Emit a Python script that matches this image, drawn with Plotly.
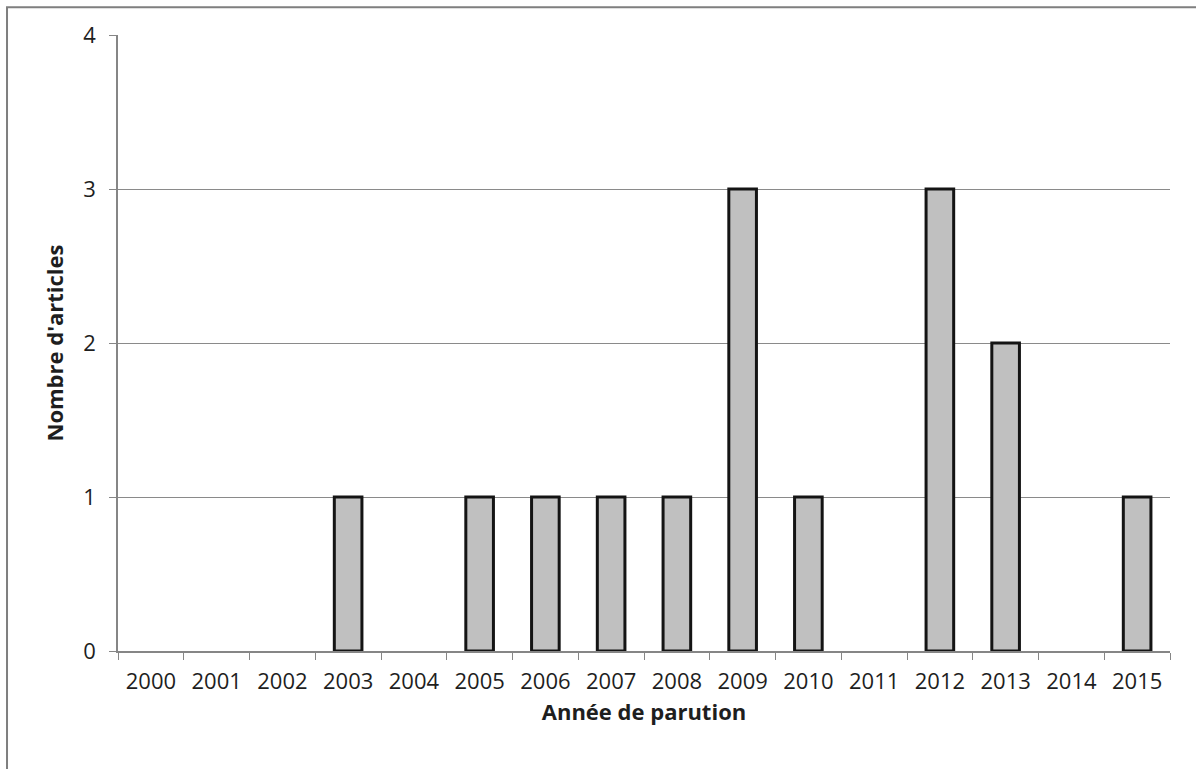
import plotly.graph_objects as go

years = [str(y) for y in range(2000, 2016)]
articles = [0, 0, 0, 1, 0, 1, 1, 1, 1, 3, 1, 0, 3, 2, 0, 1]
y_ticks = [0, 1, 2, 3, 4]

# no outline on empty years so nothing is drawn for them
outline_widths = [3 if v > 0 else 0 for v in articles]

fig = go.Figure(
    go.Bar(
        x=years,
        y=articles,
        width=0.42,
        marker=dict(color="#c0c0c0", line=dict(color="#141414", width=outline_widths)),
    )
)

font_family = "Open Sans, Liberation Sans, sans-serif"

fig.update_layout(
    width=1196,
    height=769,
    margin=dict(l=118, r=26, t=35, b=118),
    paper_bgcolor="white",
    plot_bgcolor="white",
    showlegend=False,
    font=dict(family=font_family, size=22, color="#1e1e1e"),
    xaxis=dict(
        type="category",
        tickson="boundaries",
        ticks="outside",
        ticklen=7,
        tickcolor="#868686",
        showline=True,
        linecolor="#868686",
        linewidth=1.5,
        showgrid=False,
        tickfont=dict(size=22, color="#1e1e1e"),
        ticklabelstandoff=10,
        title=dict(text="<b>Année de parution</b>", font=dict(size=22), standoff=10),
    ),
    yaxis=dict(
        range=[0, 4],
        tickvals=y_ticks,
        ticks="outside",
        ticklen=7,
        tickcolor="#868686",
        showline=True,
        linecolor="#868686",
        linewidth=1.5,
        showgrid=True,
        gridcolor="#8a8a8a",
        gridwidth=1.2,
        zeroline=False,
        tickfont=dict(size=22, color="#1e1e1e"),
        ticklabelstandoff=9,
        title=dict(text="<b>Nombre d'articles</b>", font=dict(size=22), standoff=14),
    ),
    shapes=[
        dict(
            type="rect", xref="paper", yref="paper",
            x0=-0.1055, x1=1.1, y0=1.045, y1=-0.3,
            line=dict(color="#7f7f7f", width=2), layer="below",
        )
    ],
)

fig.write_html("out.html")
